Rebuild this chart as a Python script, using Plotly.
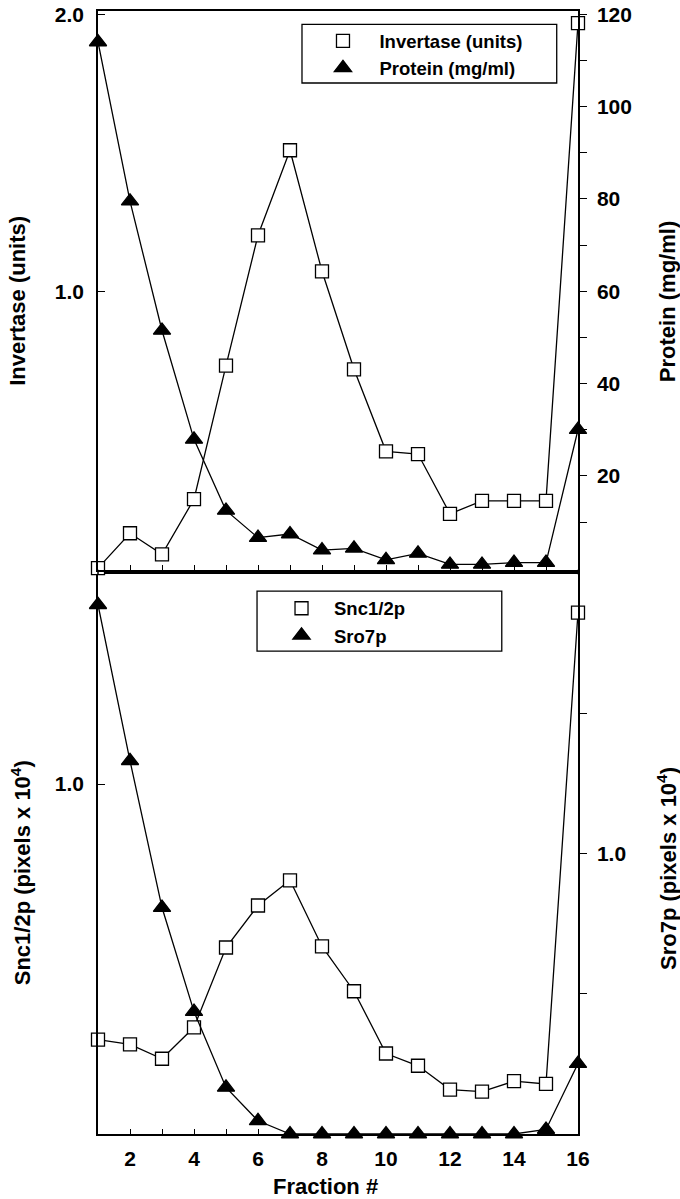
import plotly.graph_objects as go

# ---------------- data ----------------
fraction = list(range(1, 17))

invertase_units = [0.0, 0.126, 0.05, 0.249, 0.731, 1.202, 1.509, 1.072,
                   0.718, 0.422, 0.412, 0.196, 0.243, 0.243, 0.243, 1.968]
protein_mg_ml = [114, 79.5, 51.5, 27.9, 12.5, 6.6, 7.4, 3.9,
                 4.3, 1.8, 3.2, 0.8, 0.8, 1.2, 1.2, 30]

snc12p = [0.270, 0.256, 0.215, 0.305, 0.533, 0.653, 0.725, 0.536,
          0.408, 0.230, 0.195, 0.127, 0.121, 0.151, 0.143, 1.49]
sro7p = [1.886, 1.33, 0.807, 0.436, 0.166, 0.047, 0, 0,
         0, 0, 0, 0, 0, 0, 0.016, 0.251]

x_tick_vals = list(range(2, 17))
x_tick_text = [str(v) if v % 2 == 0 else '' for v in x_tick_vals]
inv_tick_vals = [1.0, 2.0]
inv_tick_text = ['1.0', '2.0']
prot_tick_vals = [20, 40, 60, 80, 100, 120]
prot_minor_vals = [10, 30, 50, 70, 90, 110]
snc_tick_vals = [1.0]
snc_tick_text = ['1.0']
sro_tick_vals = [1.0]
sro_tick_text = ['1.0']
sro_minor_vals = [0.5, 1.5]

# ---------------- page geometry (pixels) ----------------
W, H = 680, 1199
L, R, T, B = 97.5, 578, 10.7, 1134
PW, PH = R - L, B - T


def px_x(px):
    return (px - L) / PW


def px_y(py):
    return (B - py) / PH


FONT = 'Liberation Sans, Arial, sans-serif'
BLACK = 'black'
tickfont = dict(family=FONT, size=21, color=BLACK, weight='bold')

fig = go.Figure()

# lines first (under the markers)
series = [
    (invertase_units, 'x2', 'y', 'Invertase (units)', 'square', 'white', 'legend'),
    (protein_mg_ml, 'x2', 'y2', 'Protein (mg/ml)', 'triangle-up', BLACK, 'legend'),
    (snc12p, 'x', 'y3', 'Snc1/2p', 'square', 'white', 'legend2'),
    (sro7p, 'x', 'y4', 'Sro7p', 'triangle-up', BLACK, 'legend2'),
]
for vals, xa, ya, name, sym, fill, leg in series:
    fig.add_trace(go.Scatter(x=fraction, y=vals, xaxis=xa, yaxis=ya, mode='lines',
                             line=dict(color=BLACK, width=1.3), showlegend=False,
                             cliponaxis=False, hoverinfo='skip'))
for vals, xa, ya, name, sym, fill, leg in series:
    size = 13 if sym == 'square' else 15
    fig.add_trace(go.Scatter(x=fraction, y=vals, xaxis=xa, yaxis=ya, mode='markers',
                             name=name, legend=leg, cliponaxis=False,
                             marker=dict(symbol=sym, size=size, color=fill,
                                         line=dict(color=BLACK, width=1.3))))

axis_common = dict(showline=True, linecolor=BLACK, linewidth=1.5, showgrid=False,
                   zeroline=False, tickcolor=BLACK, tickwidth=1.3, tickfont=tickfont)

top_lo = px_y(569.5)
bot_hi = px_y(574)
inv_max = (B - T - (B - 568)) / 277.0
inv_min = -(B - 568 - (B - 569.5)) / 277.0

legend_font = dict(family=FONT, size=18.5, color=BLACK, weight='bold')

fig.update_layout(
    width=W, height=H,
    paper_bgcolor='white', plot_bgcolor='white',
    margin=dict(l=L, r=W - R, t=T, b=H - B, autoexpand=False),
    xaxis=dict(domain=[0, 1], anchor='y3', range=[1, 16], mirror=True,
               ticks='inside', ticklen=5, tickmode='array', tickvals=x_tick_vals,
               ticktext=x_tick_text, ticklabelstandoff=5, **axis_common),
    xaxis2=dict(domain=[0, 1], anchor='y', range=[1, 16], matches='x', mirror=True,
                ticks='inside', ticklen=5, tickmode='array', tickvals=x_tick_vals[:-1],
                showticklabels=False, **axis_common),
    yaxis=dict(domain=[top_lo, 1], anchor='x2', range=[inv_min, inv_max],
               ticks='inside', ticklen=7, tickmode='array', tickvals=inv_tick_vals,
               ticktext=inv_tick_text, ticklabelstandoff=8, **axis_common),
    yaxis2=dict(overlaying='y', anchor='x2', side='right',
                range=[inv_min * 60, inv_max * 60], ticks='outside', ticklen=7,
                tickmode='array', tickvals=prot_tick_vals, ticklabelstandoff=6,
                minor=dict(tickmode='array', tickvals=prot_minor_vals, ticks='outside',
                           ticklen=7, tickcolor=BLACK, tickwidth=1.3),
                **axis_common),
    yaxis3=dict(domain=[0, bot_hi], anchor='x', range=[0, 1.6],
                ticks='inside', ticklen=7, tickmode='array', tickvals=snc_tick_vals,
                ticktext=snc_tick_text, ticklabelstandoff=8, **axis_common),
    yaxis4=dict(overlaying='y3', anchor='x', side='right', range=[0, 1.995],
                ticks='outside', ticklen=7, tickmode='array', tickvals=sro_tick_vals,
                ticktext=sro_tick_text, ticklabelstandoff=6,
                minor=dict(tickmode='array', tickvals=sro_minor_vals, ticks='outside',
                           ticklen=7, tickcolor=BLACK, tickwidth=1.3),
                **axis_common),
    legend=dict(x=px_x(306.2), y=px_y(22), xanchor='left', yanchor='top',
                bgcolor='rgba(0,0,0,0)', borderwidth=0, itemwidth=63,
                font=legend_font),
    legend2=dict(x=px_x(268.7), y=px_y(589.6), xanchor='left', yanchor='top',
                 bgcolor='rgba(0,0,0,0)', borderwidth=0, itemwidth=55,
                 font=legend_font),
)

# legend frames and the short joins of the vertical axes between the panels
frame = dict(type='rect', xref='paper', yref='paper', line=dict(color=BLACK, width=1.3),
             fillcolor='rgba(0,0,0,0)', layer='above')
fig.add_shape(x0=px_x(301.7), x1=px_x(556.7), y0=px_y(82.7), y1=px_y(24), **frame)
fig.add_shape(x0=px_x(256.7), x1=px_x(501.7), y0=px_y(651), y1=px_y(591), **frame)
for xx in (0, 1):
    fig.add_shape(type='line', xref='paper', yref='paper', x0=xx, x1=xx,
                  y0=bot_hi, y1=top_lo, line=dict(color=BLACK, width=1.5))

# axis titles
title_font = dict(family=FONT, size=22, color=BLACK, weight='bold')
titles = [
    ('Invertase (units)', 17, 301, -90),
    ('Protein (mg/ml)', 667, 301, -90),
    ('Snc1/2p (pixels x 10<sup>4</sup>)', 20, 872.6, -90),
    ('Sro7p (pixels x 10<sup>4</sup>)', 667, 868, -90),
    ('Fraction #', 325, 1187, 0),
]
for text, tx, ty, ang in titles:
    fig.add_annotation(text=text, xref='paper', yref='paper', x=px_x(tx), y=px_y(ty),
                       xanchor='center', yanchor='middle', showarrow=False,
                       textangle=ang, font=title_font)

# the page's default body margin would push the 680x1199 figure off the window
fig.write_html("out.html", config={'displayModeBar': False},
               post_script="document.body.style.margin = '0';")
